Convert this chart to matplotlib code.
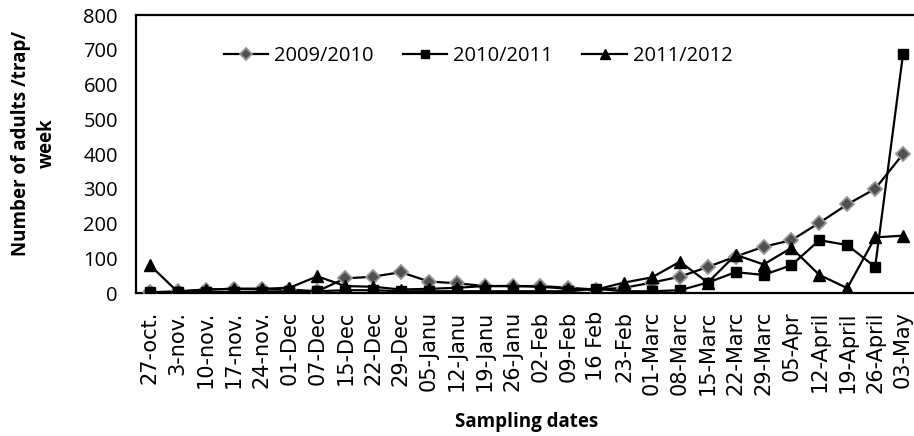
import matplotlib
matplotlib.use("Agg")
import matplotlib.pyplot as plt
import numpy as np

dates = ["27-oct.", "3-nov.", "10-nov.", "17-nov.", "24-nov.", "01-Dec", "07-Dec",
         "15-Dec", "22-Dec", "29-Dec", "05-Janu", "12-Janu", "19-Janu", "26-Janu",
         "02-Feb", "09-Feb", "16 Feb", "23-Feb", "01-Marc", "08-Marc", "15-Marc",
         "22-Marc", "29-Marc", "05-Apr", "12-April", "19-April", "26-April", "03-May"]

s2009 = [2, 5, 10, 12, 12, 10, 5, 42, 47, 60, 33, 28, 20, 20, 20, 15, 10, 15,
         30, 47, 75, 105, 133, 152, 202, 255, 300, 400]
s2010 = [2, 2, 3, 3, 4, 5, 5, 8, 8, 5, 5, 5, 5, 5, 5, 5, 12, 5,
         5, 8, 30, 60, 52, 80, 152, 138, 75, 688]
s2011 = [80, 3, 10, 12, 12, 15, 48, 20, 18, 10, 12, 15, 20, 20, 18, 12, 10, 30,
         45, 90, 30, 110, 82, 130, 52, 14, 160, 165]

labels = ["2009/2010", "2010/2011", "2011/2012"]
yticks = [0, 100, 200, 300, 400, 500, 600, 700, 800]

fig = plt.figure(figsize=(9.14, 4.36), dpi=100)
ax = fig.add_axes([136/914, 1-293/436, (917-136)/914, (293-15)/436])

x = np.arange(len(dates))
ax.plot(x, s2009, color="black", lw=1.6, marker="D", ms=7,
        mfc="#505050", mec="#959595", mew=1.3, label=labels[0], zorder=3)
ax.plot(x, s2010, color="black", lw=1.6, marker="s", ms=7,
        mfc="black", mec="black", label=labels[1], zorder=4)
ax.plot(x, s2011, color="black", lw=1.6, marker="^", ms=8.5,
        mfc="black", mec="black", label=labels[2], zorder=5)

ax.set_xlim(-0.5, 27.5)
ax.set_ylim(0, 800)
ax.set_yticks(yticks)
ax.set_yticklabels([str(v) for v in yticks], fontfamily="Open Sans", fontsize=14.5)
ax.set_xticks(x)
ax.set_xticklabels(dates, rotation=90, fontfamily="DejaVu Sans", fontsize=15)
ax.tick_params(axis="y", length=0, pad=13)
ax.tick_params(axis="x", length=0, pad=13)

for sp in ["left", "top", "bottom"]:
    ax.spines[sp].set_linewidth(1.6)
    ax.spines[sp].set_color("black")
ax.spines["right"].set_visible(False)

fig.text(34/914, 1-143/436, "Number of adults /trap/\nweek", rotation=90,
         ha="center", va="center", multialignment="center",
         fontfamily="Open Sans", fontweight="bold", fontsize=13.5, linespacing=1.35)
ax.set_xlabel("Sampling dates", fontfamily="Open Sans", fontweight="bold",
              fontsize=13.5, labelpad=12)

leg = ax.legend(loc="center left", bbox_to_anchor=(214/914, 1-56/436),
                bbox_transform=fig.transFigure, ncol=3, borderpad=0,
                frameon=False, handlelength=2.2, columnspacing=1.45,
                handletextpad=0.3, prop={"family": "Open Sans", "size": 14.5})
for h in leg.legend_handles:
    h.set_markersize(h.get_markersize() * 0.85)

fig.savefig("out.png", dpi=100)
